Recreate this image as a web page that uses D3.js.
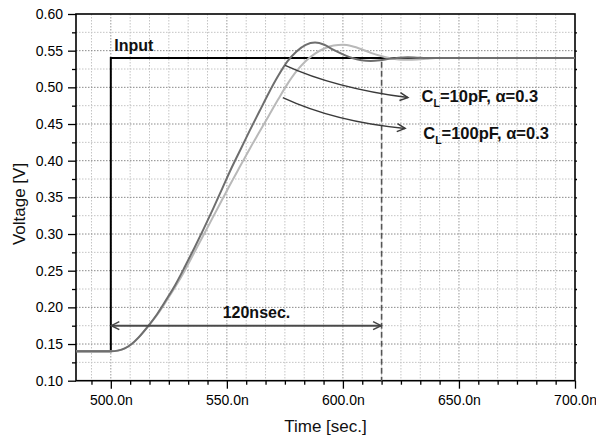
<!DOCTYPE html>
<html>
<head>
<meta charset="utf-8">
<script src="https://cdn.jsdelivr.net/npm/d3@7"></script>
<style>
  html, body { margin: 0; padding: 0; background: #fff; }
  svg { display: block; }
</style>
</head>
<body>
<script>
// ---------------- DATA ----------------
const timeNs = [485, 500, 503, 506, 509, 512, 516, 520, 524, 528, 532, 536, 540, 544, 548, 552, 556, 560, 564, 568, 572, 576, 580, 584, 588, 592, 596, 600, 604, 608, 612, 616, 620, 624, 628, 632, 636, 640, 660, 700];
const cl10pF  = [0.140, 0.140, 0.141, 0.144, 0.150, 0.159, 0.174, 0.191, 0.211, 0.232, 0.256, 0.281, 0.307, 0.334, 0.362, 0.390, 0.416, 0.442, 0.467, 0.492, 0.515, 0.535, 0.549, 0.558, 0.561, 0.558, 0.551, 0.545, 0.540, 0.537, 0.536, 0.537, 0.539, 0.5405, 0.541, 0.5405, 0.540, 0.540, 0.540, 0.540];
const cl100pF = [0.140, 0.140, 0.141, 0.144, 0.150, 0.159, 0.174, 0.190, 0.209, 0.229, 0.251, 0.275, 0.299, 0.323, 0.347, 0.371, 0.394, 0.417, 0.439, 0.461, 0.483, 0.504, 0.522, 0.536, 0.546, 0.553, 0.557, 0.558, 0.556, 0.552, 0.547, 0.543, 0.540, 0.538, 0.5375, 0.538, 0.539, 0.540, 0.540, 0.540];
const inputTime = [485, 500, 500, 700];
const inputV    = [0.14, 0.14, 0.54, 0.54];
const xMajorTicks = [500, 550, 600, 650, 700];
const xTickLabels = ["500.0n", "550.0n", "600.0n", "650.0n", "700.0n"];
const yMajorTicks = [0.10, 0.15, 0.20, 0.25, 0.30, 0.35, 0.40, 0.45, 0.50, 0.55, 0.60];
const yTickLabels = ["0.10", "0.15", "0.20", "0.25", "0.30", "0.35", "0.40", "0.45", "0.50", "0.55", "0.60"];
const delayStart = 500, delayEnd = 616.67, delayLevel = 0.175;
const delayLabel = "120nsec.";

// ---------------- LAYOUT ----------------
const W = 596, H = 439;
const pL = 76, pR = 575, pT = 14, pB = 380.7;

const svg = d3.select("body").append("svg").attr("width", W).attr("height", H)
  .style("font-family", "'Liberation Sans', Arial, sans-serif");

const x = d3.scaleLinear().domain([485, 700]).range([pL, pR]);
const y = d3.scaleLinear().domain([0.10, 0.60]).range([pB, pT]);

const xStep = 50 / 6;
const xMinor = d3.range(-1, 25).map(k => 500 + k * xStep).filter(v => v > 485.01 && v < 699.99);
const yMinor = d3.range(0, 21).map(k => 0.10 + k * 0.025).filter(v => v > 0.1001 && v < 0.5999);
const isXMajor = d => Math.abs((d - 500) / 50 - Math.round((d - 500) / 50)) < 1e-6;
const isYMajor = d => Math.abs(d * 20 - Math.round(d * 20)) < 1e-6;

// ---------------- GRID ----------------
const grid = svg.append("g");
grid.selectAll("line.vg").data(xMinor).join("line")
  .attr("x1", d => x(d)).attr("x2", d => x(d)).attr("y1", pT).attr("y2", pB)
  .attr("stroke", d => isXMajor(d) ? "#999" : "#c4c4c4")
  .attr("stroke-width", 1).attr("stroke-dasharray", "1.5,1.5");
grid.selectAll("line.hg").data(yMinor).join("line")
  .attr("x1", pL).attr("x2", pR).attr("y1", d => y(d)).attr("y2", d => y(d))
  .attr("stroke", d => isYMajor(d) ? "#8a8a8a" : "#c4c4c4")
  .attr("stroke-width", 1).attr("stroke-dasharray", "1.5,1.5");

// ---------------- AXES ----------------
const xAxis = d3.axisBottom(x).tickValues(xMajorTicks).tickSize(8).tickPadding(6)
  .tickFormat((d, i) => xTickLabels[i]);
const gx = svg.append("g").attr("transform", `translate(0,${pB})`).call(xAxis);
const xAxisMinor = d3.axisBottom(x).tickValues(xMinor.filter(v => !isXMajor(v))).tickSize(4).tickFormat("");
const gxm = svg.append("g").attr("transform", `translate(0,${pB})`).call(xAxisMinor);

const yAxis = d3.axisLeft(y).tickValues(yMajorTicks).tickSize(8).tickPadding(5)
  .tickFormat((d, i) => yTickLabels[i]);
const gy = svg.append("g").attr("transform", `translate(${pL},0)`).call(yAxis);
const yAxisMinor = d3.axisLeft(y).tickValues(yMinor.filter(v => !isYMajor(v))).tickSize(4).tickFormat("");
const gym = svg.append("g").attr("transform", `translate(${pL},0)`).call(yAxisMinor);

const yAxisRight = d3.axisRight(y).tickValues(yMinor).tickSize(2).tickFormat("");
const gyr = svg.append("g").attr("transform", `translate(${pR},0)`).call(yAxisRight);

[gx, gxm, gy, gym, gyr].forEach(g => {
  g.select(".domain").remove();
  g.selectAll(".tick line").attr("stroke", "#000").attr("stroke-width", 1.3);
  g.selectAll("text").attr("fill", "#000").style("font-size", "14px")
    .style("font-family", "'Liberation Sans', Arial, sans-serif");
});

svg.append("rect").attr("x", pL).attr("y", pT).attr("width", pR - pL).attr("height", pB - pT)
  .attr("fill", "none").attr("stroke", "#000").attr("stroke-width", 1.6);

// ---------------- MARKERS ----------------
const defs = svg.append("defs");
function chevron(id, color) {
  defs.append("marker").attr("id", id).attr("viewBox", "-10 -6 12 12")
    .attr("refX", 0).attr("refY", 0).attr("markerWidth", 12).attr("markerHeight", 12)
    .attr("markerUnits", "userSpaceOnUse").attr("orient", "auto-start-reverse")
    .append("path").attr("d", "M-8,-4 L0,0 L-8,4").attr("fill", "none")
    .attr("stroke", color).attr("stroke-width", 1.5);
}
chevron("arrDark", "#3a3a3a");
chevron("arrDelay", "#444");

// ---------------- SERIES ----------------
const line = d3.line().x(d => x(d[0])).y(d => y(d[1]));
const smooth = d3.line().x(d => x(d[0])).y(d => y(d[1])).curve(d3.curveMonotoneX);

svg.append("line")
  .attr("x1", x(delayEnd)).attr("x2", x(delayEnd))
  .attr("y1", y(0.535)).attr("y2", pB)
  .attr("stroke", "#555").attr("stroke-width", 1.6).attr("stroke-dasharray", "6,3");

svg.append("path").datum(inputTime.map((t, i) => [t, inputV[i]]))
  .attr("d", line).attr("fill", "none").attr("stroke", "#000").attr("stroke-width", 2);

svg.append("path").datum(timeNs.map((t, i) => [t, cl100pF[i]]))
  .attr("d", smooth).attr("fill", "none").attr("stroke", "#b9b9b9").attr("stroke-width", 2);
svg.append("path").datum(timeNs.map((t, i) => [t, cl10pF[i]]))
  .attr("d", smooth).attr("fill", "none").attr("stroke", "#6e6e6e").attr("stroke-width", 2);

svg.append("line")
  .attr("x1", x(delayStart) + 0.5).attr("x2", x(delayEnd) - 0.5)
  .attr("y1", y(delayLevel)).attr("y2", y(delayLevel))
  .attr("stroke", "#4a4a4a").attr("stroke-width", 2)
  .attr("marker-start", "url(#arrDelay)").attr("marker-end", "url(#arrDelay)");

const annots = [
  { p0: [575.1, 0.530], c: [596.6, 0.499], p1: [628.0, 0.486] },
  { p0: [574.1, 0.486], c: [596.6, 0.453], p1: [626.8, 0.444] }
];
annots.forEach(a => {
  const p = d3.path();
  p.moveTo(x(a.p0[0]), y(a.p0[1]));
  p.quadraticCurveTo(x(a.c[0]), y(a.c[1]), x(a.p1[0]), y(a.p1[1]));
  svg.append("path").attr("d", p.toString()).attr("fill", "none")
    .attr("stroke", "#3a3a3a").attr("stroke-width", 1.5).attr("marker-end", "url(#arrDark)");
});

// ---------------- LABELS ----------------
function label(tx, ty, size) {
  return svg.append("text").attr("x", x(tx)).attr("y", y(ty))
    .attr("font-weight", "bold").attr("font-size", (size || 16) + "px").attr("fill", "#111");
}
label(501.5, 0.550).text("Input");
label(548.2, 0.185).text(delayLabel);

function clLabel(tx, ty, val) {
  const t = label(tx, ty, 16.5);
  t.append("tspan").text("C");
  t.append("tspan").attr("font-size", "10.5px").attr("dy", 5).text("L");
  t.append("tspan").attr("dy", -5).text("=" + val + ", \u03B1=0.3");
}
clLabel(633.9, 0.480, "10pF");
clLabel(634.6, 0.429, "100pF");

svg.append("text").attr("x", (pL + pR) / 2).attr("y", 432).attr("text-anchor", "middle")
  .attr("font-size", "17px").attr("fill", "#111").text("Time [sec.]");
svg.append("text").attr("transform", `translate(25,204) rotate(-90)`).attr("text-anchor", "middle")
  .attr("font-size", "17px").attr("fill", "#111").text("Voltage [V]");
</script>
</body>
</html>
